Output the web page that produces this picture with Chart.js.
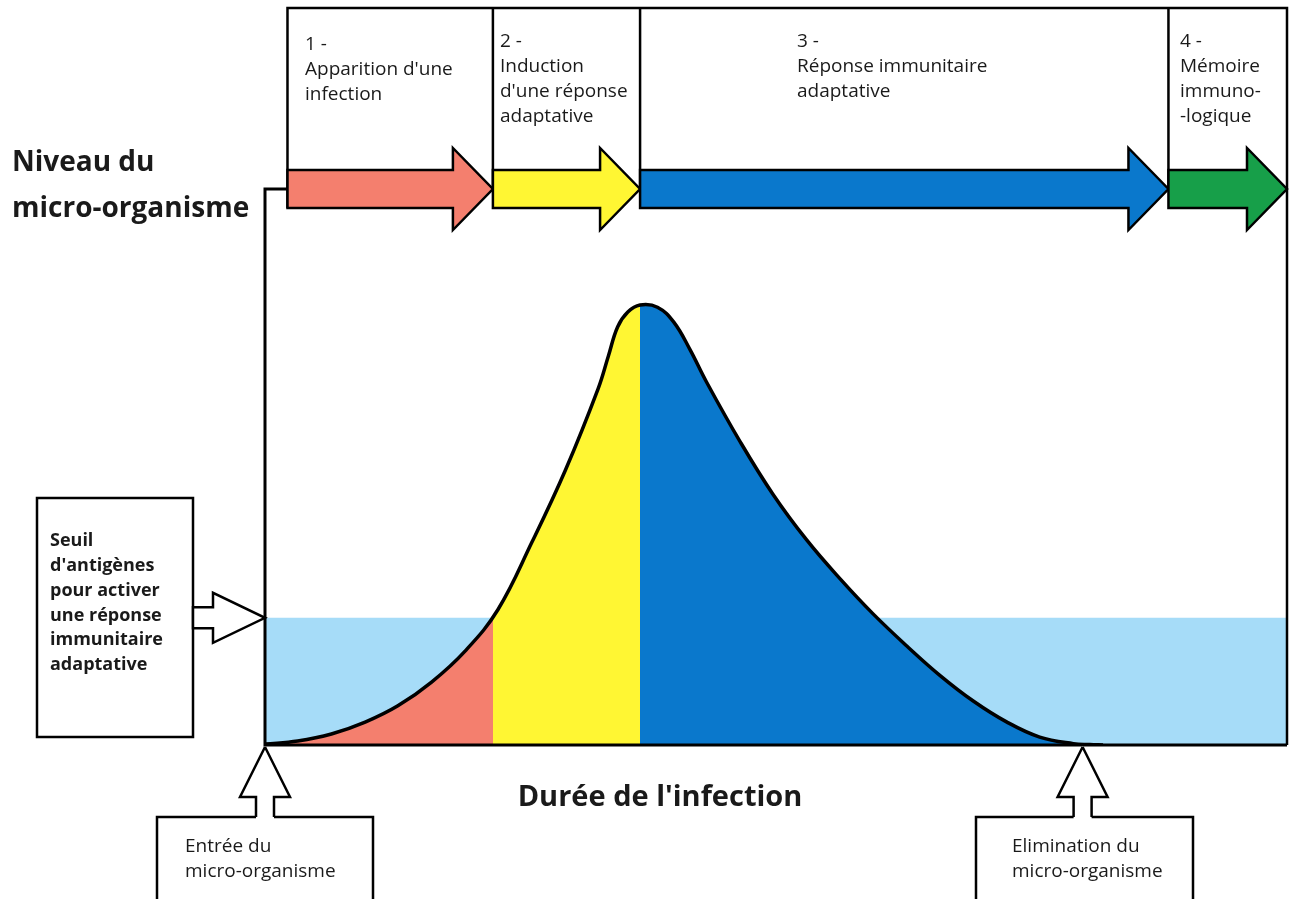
<!DOCTYPE html>
<html>
<head>
<meta charset="utf-8">
<script src="https://cdn.jsdelivr.net/npm/chart.js@4.4.1/dist/chart.umd.min.js"></script>
<style>
  body { margin: 0; background: #fff; }
  #wrap { width: 1295px; height: 899px; }
</style>
</head>
<body>
<div id="wrap"><canvas id="chartInfection" width="1295" height="899"></canvas></div>
<script>
// ===== data (temps en unités arbitraires 0-100, niveau en % du pic) =====
const timeValues = [0, 3.2, 6.5, 9.8, 13.0, 16.3, 19.6, 22.8, 26.1, 29.4, 32.6, 33.6, 34.5, 35.5, 36.7, 38.4, 40.0, 41.6, 43.2, 46.5, 49.7, 53.0, 56.3, 59.5, 62.8, 66.0, 69.3, 72.6, 75.8, 79.1, 80.7, 82.0];
const microLevel = [0.2, 0.9, 2.5, 5.2, 8.9, 14.3, 21.4, 30.8, 46.0, 62.5, 81.0, 88.4, 95.0, 98.4, 100, 99.5, 96.1, 89.8, 82.5, 68.9, 57.0, 46.6, 37.7, 29.8, 22.5, 15.9, 10.0, 5.2, 1.8, 0.3, 0.1, 0];
const seuil = 28.9;
const eliminationTime = 80.0;
const phaseEdges = [2.2, 22.3, 36.7, 88.4, 100];
const phaseColors = ["#f47f6e", "#fff633", "#0a78cc", "#179f49"];
const phaseTexts = [
    ["1 -", "Apparition d'une", "infection"],
    ["2 -", "Induction", "d'une réponse", "adaptative"],
    ["3 -", "Réponse immunitaire", "adaptative"],
    ["4 -", "Mémoire", "immuno-", "-logique"]
];
const phaseTextX = [305, 500, 797, 1180];
const yTitle = ["Niveau du", "micro-organisme"];
const xTitle = "Durée de l'infection";
const seuilText = ["Seuil", "d'antigènes", "pour activer", "une réponse", "immunitaire", "adaptative"];
const entreeText = ["Entrée du", "micro-organisme"];
const eliminationText = ["Elimination du", "micro-organisme"];

// remplissage par phase (dégradé à arrêts nets)
function phaseFill(context) {
    const chart = context.chart;
    const area = chart.chartArea;
    if (!area) return null;
    const xs = chart.scales.x;
    const w = area.right - area.left;
    const g = chart.ctx.createLinearGradient(area.left, 0, area.right, 0);
    const f1 = (xs.getPixelForValue(phaseEdges[1]) - area.left) / w;
    const f2 = (xs.getPixelForValue(phaseEdges[2]) - area.left) / w;
    g.addColorStop(0, phaseColors[0]);
    g.addColorStop(f1, phaseColors[0]);
    g.addColorStop(f1, phaseColors[1]);
    g.addColorStop(f2, phaseColors[1]);
    g.addColorStop(f2, phaseColors[2]);
    g.addColorStop(1, phaseColors[2]);
    return g;
}

function hollowArrowRight(ctx, x0, x1, yc, bodyH, headH, headL) {
    ctx.beginPath();
    ctx.moveTo(x0, yc - bodyH / 2);
    ctx.lineTo(x1 - headL, yc - bodyH / 2);
    ctx.lineTo(x1 - headL, yc - headH / 2);
    ctx.lineTo(x1, yc);
    ctx.lineTo(x1 - headL, yc + headH / 2);
    ctx.lineTo(x1 - headL, yc + bodyH / 2);
    ctx.lineTo(x0, yc + bodyH / 2);
    ctx.closePath();
}

function hollowArrowUp(ctx, xc, yTip, yBase, bodyW, headW, headL) {
    ctx.beginPath();
    ctx.moveTo(xc, yTip);
    ctx.lineTo(xc + headW / 2, yTip + headL);
    ctx.lineTo(xc + bodyW / 2, yTip + headL);
    ctx.lineTo(xc + bodyW / 2, yBase);
    ctx.moveTo(xc - bodyW / 2, yBase);
    ctx.lineTo(xc - bodyW / 2, yTip + headL);
    ctx.lineTo(xc - headW / 2, yTip + headL);
    ctx.lineTo(xc, yTip);
}

function lines(ctx, arr, x, y, step) {
    arr.forEach((t, i) => ctx.fillText(t, x, y + i * step));
}

const diagramPlugin = {
    id: "diagram",
    afterDraw(chart) {
        const ctx = chart.ctx;
        const a = chart.chartArea;
        const xs = chart.scales.x, ys = chart.scales.y;
        const px = phaseEdges.map(v => xs.getPixelForValue(v));
        const ySeuil = ys.getPixelForValue(seuil);
        const bodyTop = 170, bodyBot = 208, tipY = 189;
        ctx.save();
        ctx.strokeStyle = "#000";
        ctx.lineJoin = "miter";

        // cadre des phases
        ctx.lineWidth = 2.5;
        ctx.beginPath();
        ctx.moveTo(px[0], bodyBot);
        ctx.lineTo(px[0], a.top);
        ctx.lineTo(px[4], a.top);
        ctx.lineTo(px[4], a.bottom);
        for (let i = 1; i < 4; i++) {
            ctx.moveTo(px[i], a.top);
            ctx.lineTo(px[i], tipY);
        }
        ctx.stroke();

        // flèches des phases
        for (let i = 0; i < 4; i++) {
            hollowArrowRight(ctx, px[i], px[i + 1], tipY, bodyBot - bodyTop, 82, 40);
            ctx.fillStyle = phaseColors[i];
            ctx.fill();
            ctx.stroke();
        }

        // axes
        ctx.lineWidth = 3;
        ctx.beginPath();
        ctx.moveTo(px[0], tipY);
        ctx.lineTo(a.left, tipY);
        ctx.lineTo(a.left, a.bottom);
        ctx.lineTo(a.right, a.bottom);
        ctx.stroke();

        // textes des phases
        ctx.fillStyle = "#1a1a1a";
        ctx.font = "19px 'Open Sans'";
        ctx.textBaseline = "middle";
        ctx.textAlign = "left";
        phaseTexts.forEach((arr, i) => lines(ctx, arr, phaseTextX[i], i === 0 ? 45 : 42, 25));

        // seuil : boîte + flèche
        ctx.lineWidth = 2.5;
        ctx.strokeRect(37, 498, 156, 239);
        hollowArrowRight(ctx, 193, a.left, ySeuil, 21, 50, 52);
        ctx.fillStyle = "#fff";
        ctx.fill();
        ctx.stroke();
        ctx.fillStyle = "#1a1a1a";
        ctx.font = "bold 18px 'Open Sans'";
        lines(ctx, seuilText, 50, 541, 24.8);

        // entrée / élimination
        const xEnd = xs.getPixelForValue(eliminationTime);
        [[xs.getPixelForValue(0), 157, 373, entreeText, 185], [xEnd, 976, 1193, eliminationText, 1012]].forEach(b => {
            ctx.beginPath();
            hollowArrowUp(ctx, b[0], a.bottom + 2, 817, 18, 50, 50);
            ctx.stroke();
            ctx.beginPath();
            ctx.moveTo(b[0] - 9, 817);
            ctx.lineTo(b[1], 817);
            ctx.lineTo(b[1], 905);
            ctx.moveTo(b[0] + 9, 817);
            ctx.lineTo(b[2], 817);
            ctx.lineTo(b[2], 905);
            ctx.stroke();
            ctx.font = "19px 'Open Sans'";
            lines(ctx, b[3], b[4], 847, 25);
        });

        // titres des axes
        ctx.font = "bold 28px 'Open Sans'";
        lines(ctx, yTitle, 12, 163, 46);
        ctx.textAlign = "center";
        ctx.font = "bold 29px 'Open Sans'";
        ctx.fillText(xTitle, 660, 798);
        ctx.restore();
    }
};

new Chart(document.getElementById("chartInfection"), {
    type: "line",
    data: {
        datasets: [{
            label: "Niveau du micro-organisme",
            data: timeValues.map((t, i) => ({ x: t, y: microLevel[i] })),
            borderColor: "#000",
            borderWidth: 3.5,
            pointRadius: 0,
            fill: "origin",
            backgroundColor: phaseFill,
            tension: 0.4,
            order: 1
        }, {
            label: "Seuil d'antigènes",
            data: [{ x: 0, y: seuil }, { x: 100, y: seuil }],
            borderWidth: 0,
            pointRadius: 0,
            fill: "origin",
            backgroundColor: "#a6dcf8",
            order: 2
        }]
    },
    options: {
        responsive: false,
        animation: false,
        layout: { padding: { left: 265, right: 8, top: 8, bottom: 154 } },
        scales: {
            x: { type: "linear", min: 0, max: 100, display: false },
            y: { min: 0, max: 167.5, display: false }
        },
        plugins: { legend: { display: false }, tooltip: { enabled: false } }
    },
    plugins: [diagramPlugin]
});
</script>
</body>
</html>
